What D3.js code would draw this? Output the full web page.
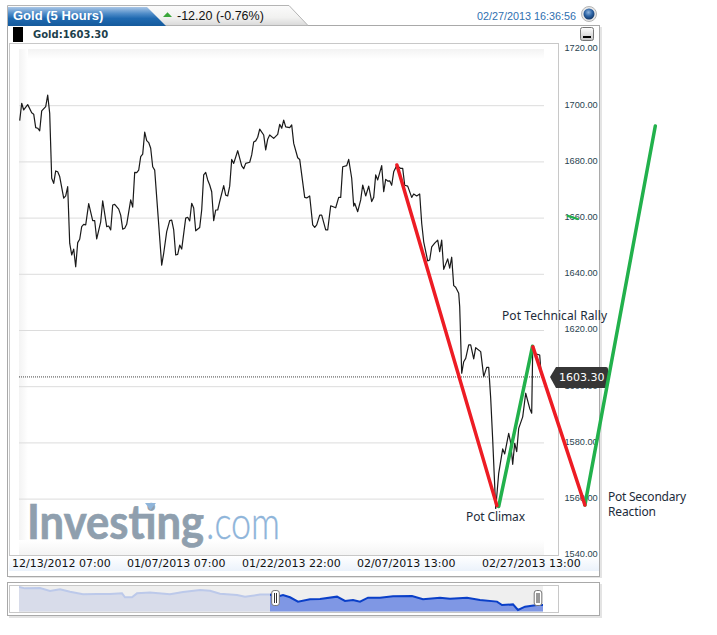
<!DOCTYPE html>
<html><head><meta charset="utf-8">
<script src="https://cdn.jsdelivr.net/npm/d3@7"></script>
<style>html,body{margin:0;padding:0;background:#fff;overflow:hidden}svg{display:block}</style>
</head><body><div id="c"></div>
<script>
const priceTicks=[1720,1700,1680,1660,1640,1620,1600,1580,1560,1540];
const gridTicks=[1700,1680,1660,1640,1620,1600,1580,1560];
const dateBars=[20.6,78,135.6,193,255.6];
const dateLabels=["12/13/2012 07:00","01/07/2013 07:00","01/22/2013 22:00","02/07/2013 13:00","02/27/2013 13:00"];
const lastPrice=1603.3;
const priceBars=[0,1,2,4,6,7,8,9,10,11,13,14,15,16,17,18,19,20,22,23,24,25,26,27,28,29,30,31,32,33,34.5,36.5,37.5,38.5,40.5,41.5,43.5,44.5,45.5,46.5,47.5,49.5,50.5,51.5,52.5,53.5,55.5,56.5,57.5,58.5,59.5,60.5,61.5,62.5,63.5,64.5,65.5,66.5,67.5,71,72,73.5,75,76,77,78,79,80,81,83,84,85,86,87,88,90,91,92,93,94,95,96,97,98,99,100,102,103,104,105,106,107,109,111,112,113,115,116,117,118,119,120,122,123,124,125,127,129,130,131,132,133,135,136,137,139,140,142.5,143.5,145,146.5,147.5,148.5,150,151,153,154,155.5,158,159.5,160.5,161.5,163.5,164.5,166,167,167.5,169,170.5,171.5,173,174.5,176,177,178,179,181,182,183,184,185,186,187,188.5,190.5,191.5,192.5,194,196,197,198.5,200,201,202,204,205,206,207.5,209,210,211,212,214,215,216,217,218,219.5,220,221,222,223,224.5,225.5,227,228,230.5,232,233.5,234.5,235.5,236.5,238,239.5,241.5,242.5,244.5,245.5,246.5,247.5,248.5,249.5,251.5,253,255,256,256.5,258,260,260.5,261];
const priceValues=[1694.5,1700.7,1698.3,1700.2,1697.3,1696.8,1692.0,1691.8,1690.9,1698.0,1699.5,1703.6,1697.1,1674.0,1672.2,1676.6,1676.3,1674.6,1666.9,1667.7,1671.0,1650.9,1646.7,1648.8,1642.5,1651.1,1652.3,1656.8,1657.6,1657.4,1665.0,1658.9,1658.9,1652.4,1658.5,1666.0,1656.8,1657.0,1655.6,1664.5,1664.7,1663.0,1660.9,1655.9,1656.2,1657.6,1666.3,1663.7,1676.1,1676.0,1676.9,1681.7,1682.6,1690.4,1687.4,1686.7,1684.7,1678.1,1676.9,1643.1,1647.3,1655.0,1658.9,1659.1,1655.6,1646.7,1646.9,1650.2,1648.8,1659.8,1660.1,1658.8,1665.1,1663.4,1655.3,1656.5,1662.7,1675.2,1676.1,1673.4,1671.6,1669.2,1658.9,1662.7,1662.7,1665.7,1671.4,1668.0,1667.7,1671.2,1680.7,1679.3,1683.8,1678.4,1677.4,1679.3,1679.7,1682.3,1686.9,1687.3,1688.6,1691.5,1689.4,1684.1,1687.9,1689.4,1688.2,1689.6,1693.2,1691.8,1694.7,1692.3,1692.0,1693.0,1686.4,1681.3,1680.7,1667.2,1667.0,1667.7,1657.4,1656.5,1657.4,1660.9,1660.9,1655.6,1655.6,1664.2,1663.5,1667.2,1667.2,1678.1,1678.5,1680.7,1674.0,1664.1,1665.1,1662.1,1666.3,1671.6,1667.7,1671.2,1665.7,1667.2,1675.2,1673.4,1678.5,1669.2,1673.6,1673.0,1673.1,1671.5,1676.3,1678.5,1677.5,1677.5,1671.5,1671.2,1667.2,1668.4,1667.7,1668.4,1658.0,1651.4,1644.6,1644.9,1649.6,1650.9,1652.0,1647.9,1652.0,1641.6,1645.3,1642.0,1645.9,1635.8,1635.2,1633.1,1628.3,1604.6,1608.7,1609.9,1614.7,1614.7,1609.7,1613.7,1612.3,1603.4,1606.7,1606.7,1595.7,1580.9,1556.5,1569.0,1577.7,1575.9,1583.2,1579.8,1572.2,1579.7,1576.7,1585.0,1589.1,1597.5,1592.1,1590.4,1612.9,1611.5,1611.1,1606.4,1603.3];
const redBars=[[188.6,238.6],[256.6,282.6]];
const redPrices=[[1678.7,1557.5],[1614,1557.7]];
const greenBars=[[239.5,256.4],[282.6,317.8],[274,279]];
const greenPrices=[[1557.2,1614.2],[1557.7,1692.6],[1660.6,1659.5]];
const navIndex=[0,6,21,31,41,51,64,78,91,103,106,113,118,131,151,164,181,191,201,218,226,241,251,258,264,271,279,291,301,318,326,334,341,349,361,374,393,404,421,431,448,461,478,483,494,499,506,518,524];
const navValues=[1773,1760,1764,1735,1751,1729,1704,1707,1707,1713,1676,1676,1713,1720,1704,1726,1745,1738,1710,1698,1682,1701,1701,1682,1698,1676,1635,1657,1660,1682,1641,1650,1635,1672,1672,1685,1688,1657,1672,1663,1672,1650,1635,1603,1609,1556,1587,1603,1603];

const W=717,H=635;
const svg=d3.select("#c").append("svg").attr("width",W).attr("height",H);
const defs=svg.append("defs");
function grad(id,stops,x2=0,y2=1){const g=defs.append("linearGradient").attr("id",id).attr("x1",0).attr("y1",0).attr("x2",x2).attr("y2",y2);
 stops.forEach(s=>g.append("stop").attr("offset",s[0]).attr("stop-color",s[1]));}
grad("tabBlue",[[0,"#a9c6e6"],[.35,"#4f8cc8"],[.6,"#1f69b0"],[1,"#155a9c"]]);
grad("tabGray",[[0,"#fbfbfb"],[.6,"#f1f1f0"],[1,"#d9d9d9"]]);
grad("fadeTop",[[0,"#f3f3f3"],[1,"#ffffff"]]);
grad("fadeBottom",[[0,"#ffffff"],[1,"#f4f4f4"]]);
grad("fadeLeft",[[0,"#f3f3f3"],[1,"#ffffff"]],1,0);
grad("axisBand",[[0,"#ffffff"],[1,"#ebf2fb"]]);
grad("btn",[[0,"#ffffff"],[1,"#c4c4c4"]]);
const rg=defs.append("radialGradient").attr("id","globe").attr("cx",.45).attr("cy",.35).attr("r",.7);
rg.append("stop").attr("offset",0).attr("stop-color","#8fb4dc");
rg.append("stop").attr("offset",.5).attr("stop-color","#2d64a5");
rg.append("stop").attr("offset",1).attr("stop-color","#0e2f5c");

const rect=(x,y,w,h,fill,stroke)=>svg.append("rect").attr("x",x).attr("y",y).attr("width",w).attr("height",h).attr("fill",fill).attr("stroke",stroke||"none");
const text=(x,y,s,font,size,fill,weight,anchor)=>svg.append("text").attr("x",x).attr("y",y).attr("font-family",font).attr("font-size",size).attr("fill",fill).attr("font-weight",weight||"normal").attr("text-anchor",anchor||"start").text(s);

// panel shadows and frames
rect(9,27,593,551,"#e4e4e4");
rect(7.5,25.5,592,551,"#fff","#a9a9a9");
rect(9,584,593,34,"#e4e4e4");
rect(7.5,582.5,592,33,"#fff","#a9a9a9");

// header tabs
svg.append("path").attr("d","M7.5 25.5V5.5H289L308 25.5Z").attr("fill","url(#tabGray)").attr("stroke","#b4b4b4");
svg.append("path").attr("d","M8 7H147L166 26H8Z").attr("fill","url(#tabBlue)");
svg.append("line").attr("x1",308).attr("x2",600).attr("y1",25.5).attr("y2",25.5).attr("stroke","#a9a9a9");
text(13,20,"Gold (5 Hours)","Liberation Sans",13,"#fff","bold");
svg.append("path").attr("d","M163 17L167.5 12.3L172 17Z").attr("fill","#3aa63a");
text(177,20,"-12.20 (-0.76%)","Liberation Sans",12.5,"#111");
text(477,19.5,"02/27/2013 16:36:56","Liberation Sans",10.8,"#2f6fb0");
svg.append("circle").attr("cx",589).attr("cy",14).attr("r",7.5).attr("fill","#e8e8e8").attr("stroke","#b5b5b5");
svg.append("circle").attr("cx",589).attr("cy",14).attr("r",5.5).attr("fill","url(#globe)");

// legend row
rect(13,27,10,15,"#000");
text(33,38,"Gold:1603.30","DejaVu Sans",10,"#1d3f4c","bold");
rect(580.5,27.5,13,13,"url(#btn)","#777").attr("rx",2);
rect(583,36,8,2,"#000");

// plot frame
rect(9.5,43.5,549,512,"#fff","#c8c8c8");
rect(19,49,525,10,"url(#fadeTop)");
rect(19,49,9,506,"url(#fadeLeft)");
rect(19,540,525,15,"url(#fadeBottom)");
rect(9,556,590,15,"url(#axisBand)");

const x=d3.scaleLinear().domain([0,262]).range([19.7,543.7]);
const y=d3.scaleLinear().domain([1540,1720]).range([554.8,49]);

// grid
svg.append("g").attr("transform",`translate(${x(0)-0.7},0)`)
 .call(d3.axisRight(y).tickValues(gridTicks).tickSize(525).tickFormat(""))
 .call(g=>g.select(".domain").remove())
 .call(g=>g.selectAll("line").attr("stroke","#dcdcdc"));

// logo
text(27,539,"Investing","Lato",47,"#8f9fae","bold").attr("textLength",177).attr("lengthAdjust","spacingAndGlyphs").attr("stroke","#8f9fae").attr("stroke-width",0.7);
text(206,539,".com","Lato",46,"#8fb5da","300").attr("textLength",74).attr("lengthAdjust","spacingAndGlyphs").attr("stroke","#8fb5da").attr("stroke-width",0.35);
svg.append("path").attr("d","M145 503H156L150.5 510Z").attr("fill","#8fb5da");

// y axis labels
svg.append("g").attr("transform","translate(597.7,-1)")
 .call(d3.axisLeft(y).tickValues(priceTicks).tickSize(0).tickPadding(0).tickFormat(d3.format(".2f")))
 .call(g=>g.select(".domain").remove())
 .call(g=>g.selectAll("text").attr("font-family","Liberation Sans").attr("font-size",9.2).attr("fill","#2a4450"));

// x axis labels
svg.append("g").attr("transform","translate(0,553)")
 .call(d3.axisBottom(x).tickValues(dateBars).tickSize(0).tickPadding(6).tickFormat((d,i)=>dateLabels[i]))
 .call(g=>g.select(".domain").remove())
 .call(g=>g.selectAll("text").attr("font-family","DejaVu Sans").attr("font-size",11).attr("fill","#111"));

// price line
const line=d3.line().x(d=>x(d[0])).y(d=>y(d[1]));
svg.append("path").datum(d3.zip(priceBars,priceValues)).attr("d",line).attr("fill","none").attr("stroke","#1a1a1a").attr("stroke-width",1.2).attr("stroke-linejoin","round");

// last price guide
svg.append("line").attr("x1",19).attr("x2",544).attr("y1",y(lastPrice)).attr("y2",y(lastPrice)).attr("stroke","#444").attr("stroke-dasharray","1 1");

// badge
const by=y(lastPrice);
svg.append("path").attr("d",`M550 ${by}L556 ${by-10}H606Q608 ${by-10} 608 ${by-8}V${by+9}Q608 ${by+11} 606 ${by+11}H556Z`).attr("fill","#363636");
text(559,by+4,d3.format(".2f")(lastPrice),"DejaVu Sans",11,"#fff");

// hand-drawn annotations
const strokeSet=(bars,prices,color,w)=>bars.forEach((b,i)=>{
 svg.append("path").datum(d3.zip(b,prices[i])).attr("d",line).attr("fill","none").attr("stroke",color).attr("stroke-width",w).attr("stroke-linecap","round");
});
strokeSet(greenBars.slice(0,2),greenPrices.slice(0,2),"#22b14c",3.5);
strokeSet(redBars,redPrices,"#ed1c24",3.5);
strokeSet(greenBars.slice(2),greenPrices.slice(2),"#22b14c",2.2);

const noteFont="Noto Sans",noteColor="#1c2b3a";
text(502,320,"Pot Technical Rally",noteFont,12,noteColor).attr("textLength",105);
text(466,521,"Pot Climax",noteFont,12,noteColor).attr("textLength",59);
text(608,501,"Pot Secondary",noteFont,12,noteColor).attr("textLength",78);
text(608,516,"Reaction",noteFont,12,noteColor).attr("textLength",48);

// navigator
rect(9.5,585.5,549,27,"#fff","#c8c8c8");
rect(19,586,524,26,"#efefef");
const nx=d3.scaleLinear().domain([0,524]).range([19,543]);
const ny=d3.scaleLinear().domain([1556,1770]).range([610,587.3]);
const navBase=611.5;
const navData=d3.zip(navIndex,navValues);
const navArea=d3.area().x(d=>nx(d[0])).y0(navBase).y1(d=>ny(d[1]));
const navLine=d3.line().x(d=>nx(d[0])).y(d=>ny(d[1]));
defs.append("clipPath").attr("id","navLeft").append("rect").attr("x",19).attr("y",580).attr("width",251).attr("height",40);
defs.append("clipPath").attr("id","navRight").append("rect").attr("x",270).attr("y",580).attr("width",273).attr("height",40);
const nl=svg.append("g").attr("clip-path","url(#navLeft)");
nl.append("path").datum(navData).attr("d",navArea).attr("fill","#d8dcea");
nl.append("path").datum(navData).attr("d",navLine).attr("fill","none").attr("stroke","#bcc9ea").attr("stroke-width",2);
const nr=svg.append("g").attr("clip-path","url(#navRight)");
nr.append("path").datum(navData).attr("d",navArea).attr("fill","#7f97e4");
nr.append("path").datum(navData).attr("d",navLine).attr("fill","none").attr("stroke","#0a3fc8").attr("stroke-width",2);
[275.5,538].forEach(cx=>{
 rect(cx-3.8,590.5,7.6,15,"#fff","#777").attr("rx",2.5);
 [-1,1].forEach(d=>svg.append("line").attr("x1",cx+d).attr("x2",cx+d).attr("y1",593).attr("y2",603).attr("stroke","#333"));
});
</script></body></html>
